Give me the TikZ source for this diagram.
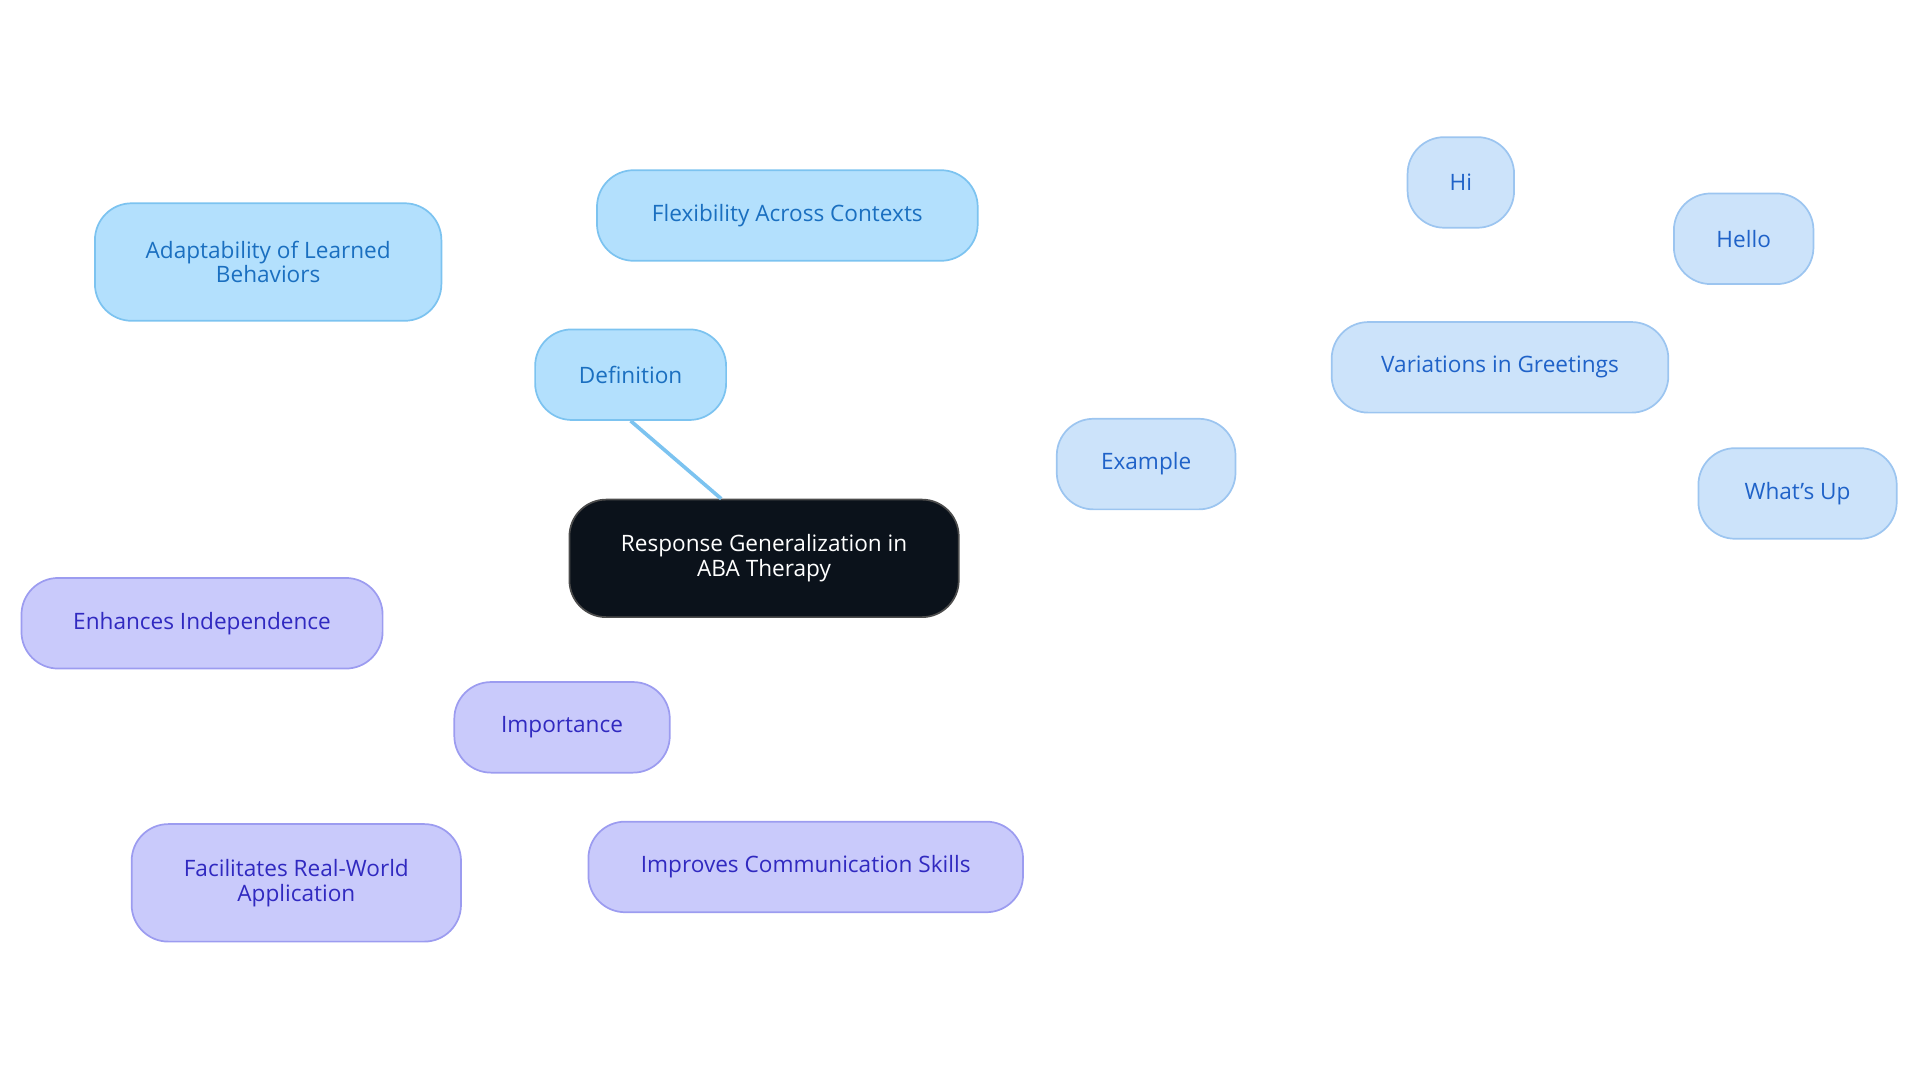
\documentclass[tikz,border=0pt]{standalone}
\usepackage{fontspec}
\setmainfont{Open Sans}
\begin{document}
\begin{tikzpicture}[x=0.02cm,y=-0.02cm,
  base/.style={rounded corners=0.6cm, line width=0.8pt, align=center, font=\fontsize{10.5}{11.5}\selectfont, inner sep=0pt},
  rootn/.style={base, fill=black!95!blue!70!black, draw=black!80, text=white},
  defn/.style={base, fill=defF, draw=defB, text=defT},
  exn/.style={base, fill=exF, draw=exB, text=exT},
  impn/.style={base, fill=impF, draw=impB, text=impT},
  edef/.style={draw=defB, line width=1.7pt},
  eex/.style={draw=exB, line width=1.7pt},
  eimp/.style={draw=impB, line width=1.7pt}]
\definecolor{defF}{HTML}{B3E0FD}\definecolor{defB}{HTML}{7CC3F0}\definecolor{defT}{HTML}{1A6FC0}
\definecolor{exF}{HTML}{CCE3FA}\definecolor{exB}{HTML}{9CC5F0}\definecolor{exT}{HTML}{1F62C8}
\definecolor{impF}{HTML}{C9CAFB}\definecolor{impB}{HTML}{9C9CF0}\definecolor{impT}{HTML}{3029C0}
\definecolor{rootF}{HTML}{0B121B}
\useasboundingbox (0,0) rectangle (1568,884);
\node[base, fill=rootF, draw=black!70, text=white, minimum width=6.36cm, minimum height=1.92cm] (root) at (624,456) {Response Generalization in\\ABA Therapy};
\node[defn, minimum width=3.12cm, minimum height=1.48cm] (def) at (515,306) {Definition};
\node[defn, minimum width=6.22cm, minimum height=1.48cm] (flex) at (643,176) {Flexibility Across Contexts};
\node[defn, minimum width=5.66cm, minimum height=1.92cm] (adapt) at (219,214) {Adaptability of Learned\\Behaviors};
\node[exn, minimum width=2.92cm, minimum height=1.48cm] (ex) at (936,379) {Example};
\node[exn, minimum width=5.5cm, minimum height=1.48cm] (var) at (1225,300) {Variations in Greetings};
\node[exn, minimum width=1.74cm, minimum height=1.48cm] (hi) at (1193,149) {Hi};
\node[exn, minimum width=2.28cm, minimum height=1.48cm] (hello) at (1424,195) {Hello};
\node[exn, minimum width=3.24cm, minimum height=1.48cm] (whats) at (1468,403) {What's Up};
\node[impn, minimum width=3.52cm, minimum height=1.48cm] (imp) at (459,594) {Importance};
\node[impn, minimum width=5.9cm, minimum height=1.48cm] (enh) at (165,509) {Enhances Independence};
\node[impn, minimum width=5.38cm, minimum height=1.92cm] (fac) at (242,721) {Facilitates Real-World\\Application};
\node[impn, minimum width=7.1cm, minimum height=1.48cm] (impr) at (658,708) {Improves Communication Skills};
\begin{scope}[on background layer/.style={}]
\end{scope}
\draw[edef] (root.north) ++(-35,0) -- (def.south);
\end{tikzpicture}
\end{document}
